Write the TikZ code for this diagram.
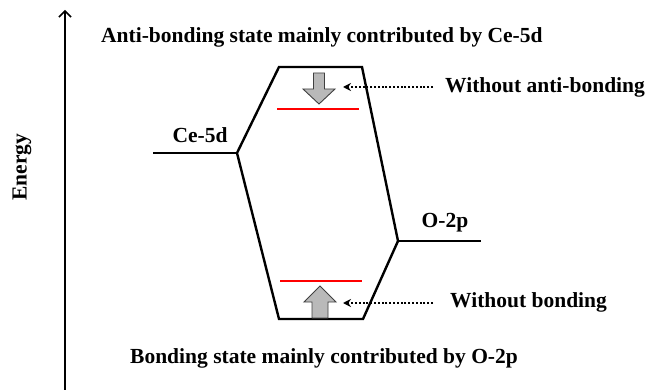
\documentclass[tikz,border=0pt]{standalone}
\usepackage{fontspec}
\setmainfont{Liberation Serif}
\usetikzlibrary{arrows.meta}
\tikzset{
    molevel/.style={draw, line width=2.4pt},
    moedge/.style={draw, line width=2.4pt, line join=miter},
    mored/.style={draw=red, line width=1.9pt},
    motext/.style={font=\fontsize{21.5}{24}\selectfont\bfseries, inner sep=0pt},
    mopointer/.style={draw, line width=2.2pt, dash pattern=on 2pt off 1.8pt, -{Stealth[length=8pt,width=8pt]}},
    moblock/.style={draw=black!75, fill=gray!55, line width=0.9pt},
    moaxis/.style={draw, line width=1.5pt, -{Straight Barb[length=6pt,width=12pt]}}
}
\begin{document}
\begin{tikzpicture}[x=1pt, y=-1pt]
    \useasboundingbox (0,0) rectangle (653,390);

    % energy axis
    \coordinate (axbot) at (65,390);
    \coordinate (axtop) at (65,10);
    \draw[moaxis] (axbot) -- (axtop);
    \node[motext, rotate=90] (energy) at (22,167) {Energy};

    % levels and hexagon
    \coordinate (ceL) at (153,153);
    \coordinate (ceR) at (237,153);
    \coordinate (oL) at (398,241);
    \coordinate (oR) at (481,241);
    \coordinate (topL) at (279,67);
    \coordinate (topR) at (362,67);
    \coordinate (botL) at (279,319);
    \coordinate (botR) at (363,319);
    \draw[molevel] (ceL) -- (ceR);
    \draw[molevel] (oL) -- (oR);
    \draw[moedge] (ceR) -- (topL) -- (topR) -- (oL) -- (botR) -- (botL) -- cycle;
    \node[motext, anchor=base] (celabel) at (200,143) {Ce-5d};
    \node[motext, anchor=base] (olabel) at (445,227) {O-2p};

    % red states
    \coordinate (antiL) at (277,109);
    \coordinate (antiR) at (359,109);
    \coordinate (bondL) at (280,281);
    \coordinate (bondR) at (362,281);
    \draw[mored] (antiL) -- (antiR);
    \draw[mored] (bondL) -- (bondR);

    % gray arrows
    \draw[moblock] (313.5,73) -- (324.5,73) -- (324.5,89) -- (335,89) -- (319,104) -- (303,89) -- (313.5,89) -- cycle;
    \draw[moblock] (312,318) -- (328,318) -- (328,302) -- (336,302) -- (320,286) -- (304,302) -- (312,302) -- cycle;

    % titles
    \node[motext, anchor=base west] (antititle) at (101,43) {Anti-bonding state mainly contributed by Ce-5d};
    \node[motext, anchor=base west] (bondtitle) at (130,363) {Bonding state mainly contributed by O-2p};

    % pointers
    \node[motext, anchor=base west] (noanti) at (445,93) {Without anti-bonding};
    \node[motext, anchor=base west] (nobond) at (450,307) {Without bonding};
    \coordinate (antitip) at (343,87);
    \coordinate (bondtip) at (343,303);
    \draw[mopointer] ([xshift=-12pt]noanti.west |- antitip) -- (antitip);
    \draw[mopointer] ([xshift=-17pt]nobond.west |- bondtip) -- (bondtip);
\end{tikzpicture}
\end{document}
